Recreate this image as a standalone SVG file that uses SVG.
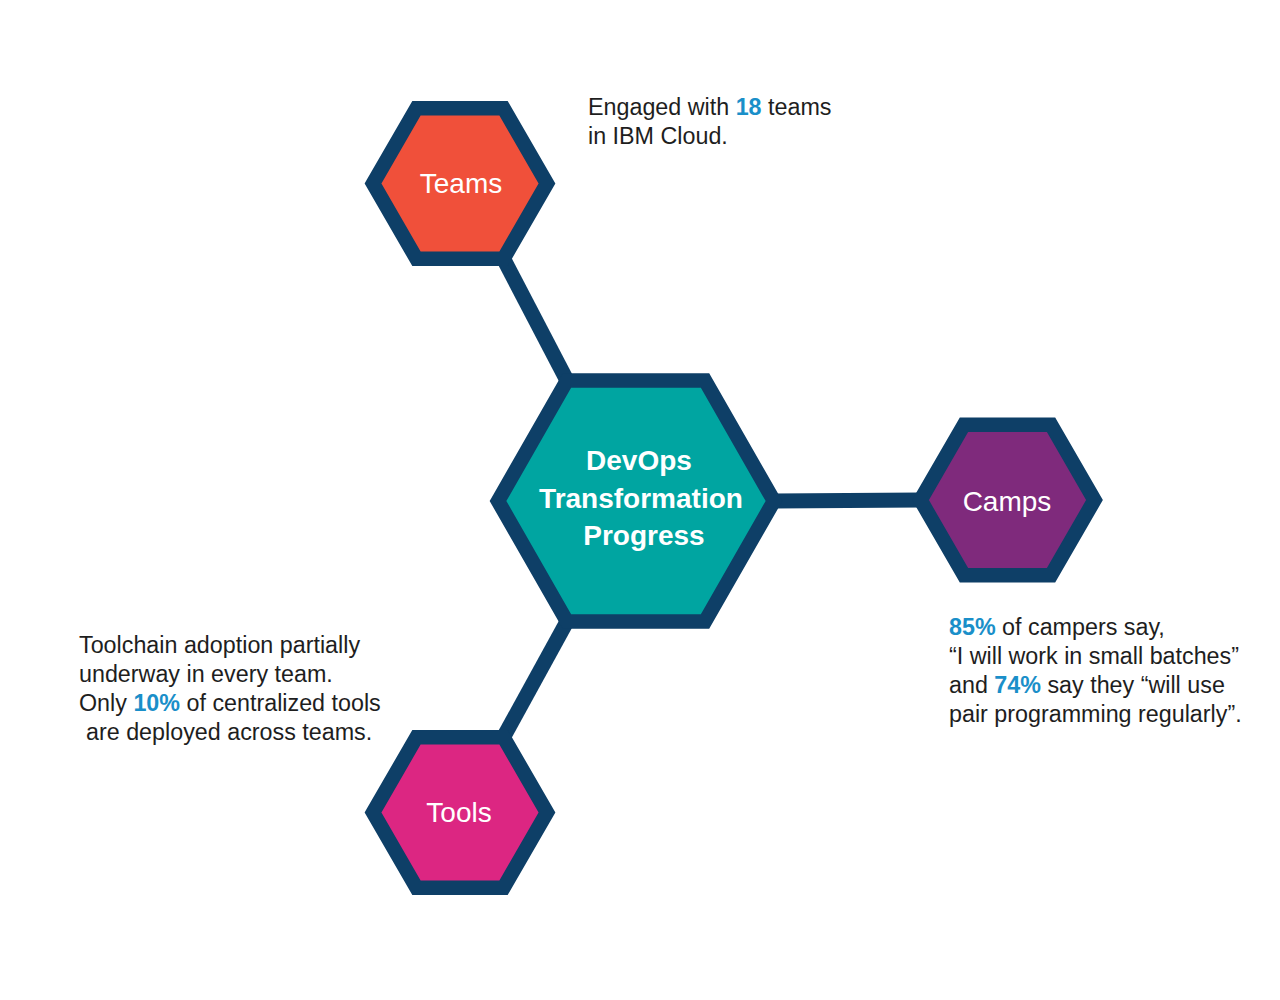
<svg xmlns="http://www.w3.org/2000/svg" width="1280" height="1000" viewBox="0 0 1280 1000">
<style>
.bg{fill:#ffffff}
.hex{stroke:#0e3f67;stroke-width:14.5;stroke-linejoin:miter}
.conn{stroke:#0e3f67;stroke-width:15;fill:none;stroke-linecap:butt}
.lbl{font-family:"Liberation Sans",Arial,sans-serif;font-size:28px;fill:#ffffff;text-anchor:middle}
.title{font-family:"Liberation Sans",Arial,sans-serif;font-size:28px;font-weight:bold;fill:#ffffff;text-anchor:middle}
.body{font-family:"Liberation Sans",Arial,sans-serif;font-size:23.3px;fill:#1e1e1e}
.hl{fill:#1a8fc9;font-weight:bold}
</style>
<rect class="bg" x="0" y="0" width="1280" height="1000"/>
<g id="connectors">
<line class="conn" x1="503.5" y1="258.8" x2="567" y2="380.5"/>
<line class="conn" x1="503.5" y1="737.2" x2="567" y2="621.5"/>
<line class="conn" x1="774" y1="501" x2="920.5" y2="500"/>
</g>
<g id="node-center">
<polygon class="hex" fill="#00a5a1" points="498,501 567,380.5 705,380.5 774,501 705,621.5 567,621.5"/>
<text class="title" x="639" y="470">DevOps</text>
<text class="title" x="641" y="508">Transformation</text>
<text class="title" x="644" y="545">Progress</text>
</g>
<g id="node-teams">
<polygon class="hex" fill="#f0503a" points="373,183.5 416.5,108.2 503.5,108.2 547,183.5 503.5,258.8 416.5,258.8"/>
<text class="lbl" x="461" y="193">Teams</text>
</g>
<g id="node-camps">
<polygon class="hex" fill="#7f2a7c" points="920.5,500 964,424.7 1051,424.7 1094.5,500 1051,575.3 964,575.3"/>
<text class="lbl" x="1007" y="511">Camps</text>
</g>
<g id="node-tools">
<polygon class="hex" fill="#dc2682" points="373,812.5 416.5,737.2 503.5,737.2 547,812.5 503.5,887.8 416.5,887.8"/>
<text class="lbl" x="459" y="822">Tools</text>
</g>
<g id="text-teams">
<text class="body" x="588" y="115">Engaged with <tspan class="hl">18</tspan> teams</text>
<text class="body" x="588" y="143.5">in IBM Cloud.</text>
</g>
<g id="text-tools">
<text class="body" x="79" y="653">Toolchain adoption partially</text>
<text class="body" x="79" y="682">underway in every team.</text>
<text class="body" x="79" y="711">Only <tspan class="hl">10%</tspan> of centralized tools</text>
<text class="body" x="86" y="740">are deployed across teams.</text>
</g>
<g id="text-camps">
<text class="body" x="949" y="635"><tspan class="hl">85%</tspan> of campers say,</text>
<text class="body" x="949" y="664">“I will work in small batches”</text>
<text class="body" x="949" y="693">and <tspan class="hl">74%</tspan> say they “will use</text>
<text class="body" x="949" y="722">pair programming regularly”.</text>
</g>
</svg>
